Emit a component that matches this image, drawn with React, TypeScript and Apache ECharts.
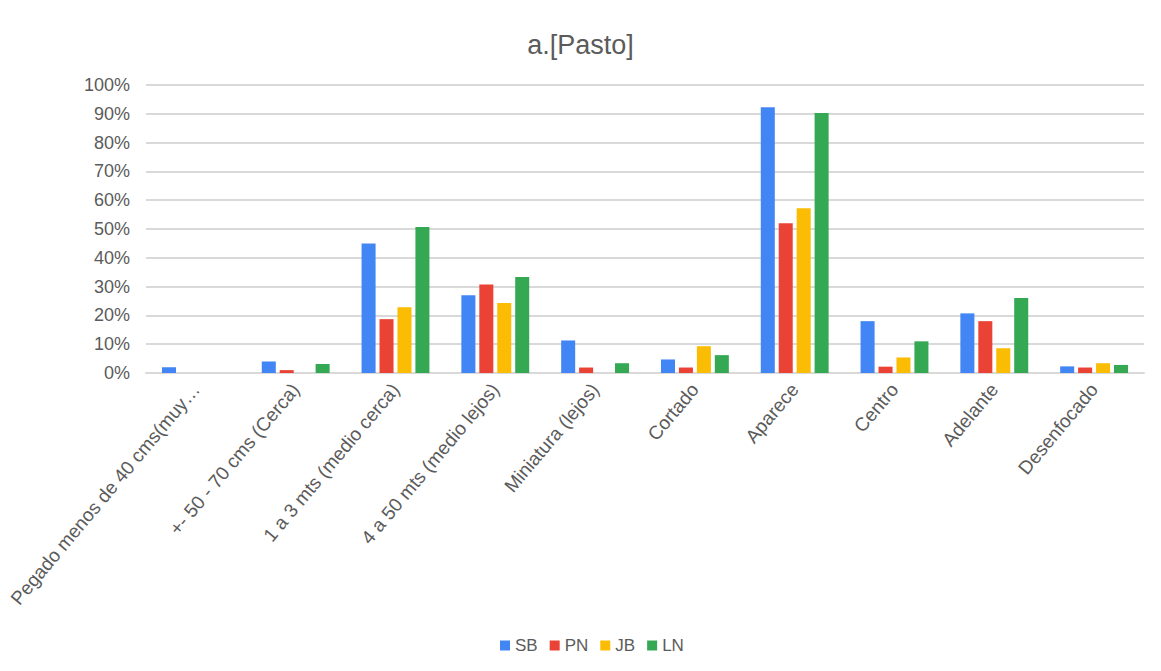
import React, { useEffect, useRef } from "react";
import * as echarts from "echarts";

// Category labels along the x axis
const categories = [
  "Pegado menos de 40 cms(muy…",
  "+- 50 - 70 cms (Cerca)",
  "1 a 3 mts (medio cerca)",
  "4 a 50 mts (medio lejos)",
  "Miniatura (lejos)",
  "Cortado",
  "Aparece",
  "Centro",
  "Adelante",
  "Desenfocado",
];

// Series values, in percent
const sbValues = [2, 4, 45, 27, 11.3, 4.7, 92.3, 18, 20.7, 2.3];
const pnValues = [0, 1, 18.7, 30.7, 1.9, 1.9, 52, 2.2, 18, 1.9];
const jbValues = [0, 0, 22.8, 24.3, 0, 9.3, 57.2, 5.4, 8.6, 3.4];
const lnValues = [0, 3.1, 50.7, 33.3, 3.4, 6.2, 90.3, 11, 26, 2.8];

const seriesNames = ["SB", "PN", "JB", "LN"];
const seriesColors = ["#4285F4", "#EA4335", "#FBBC04", "#34A853"];

const FONT = "'Liberation Sans', Arial, sans-serif";
const TEXT = "#5b5b5b";

export default function App() {
  const ref = useRef<HTMLDivElement>(null);

  useEffect(() => {
    if (!ref.current) return;
    const chart = echarts.init(ref.current, undefined, { renderer: "svg" });
    const values = [sbValues, pnValues, jbValues, lnValues];
    chart.setOption({
      animation: false,
      backgroundColor: "#ffffff",
      textStyle: { fontFamily: FONT, color: TEXT },
      title: {
        text: "a.[Pasto]",
        left: "center",
        top: 26,
        textStyle: { fontFamily: FONT, fontSize: 27, fontWeight: "normal", color: TEXT },
      },
      legend: {
        bottom: 12,
        left: 495,
        itemWidth: 10,
        itemHeight: 10,
        itemGap: 12,
        icon: "rect",
        textStyle: { fontFamily: FONT, fontSize: 17, color: TEXT },
        data: seriesNames,
      },
      grid: { left: 146, right: 17, top: 85, bottom: 298, containLabel: false },
      xAxis: {
        type: "category",
        data: categories,
        axisTick: { show: false },
        axisLine: { show: true, lineStyle: { color: "#d9d9d9", width: 2 } },
        axisLabel: {
          interval: 0,
          rotate: 50,
          margin: 13,
          fontFamily: FONT,
          fontSize: 19,
          color: TEXT,
        },
      },
      yAxis: {
        type: "value",
        min: 0,
        max: 100,
        interval: 10,
        axisLine: { show: false },
        axisTick: { show: false },
        splitLine: { lineStyle: { color: "#d9d9d9", width: 2 } },
        axisLabel: {
          formatter: "{value}%",
          margin: 16,
          fontFamily: FONT,
          fontSize: 18,
          color: TEXT,
        },
      },
      series: values.map((data, i) => ({
        name: seriesNames[i],
        type: "bar",
        data,
        barGap: "28%",
        barCategoryGap: "32%",
        itemStyle: { color: seriesColors[i] },
      })),
    });
    return () => chart.dispose();
  }, []);

  return (
    <div
      ref={ref}
      style={{ position: "fixed", left: 0, top: 0, width: 1161, height: 671 }}
    />
  );
}
